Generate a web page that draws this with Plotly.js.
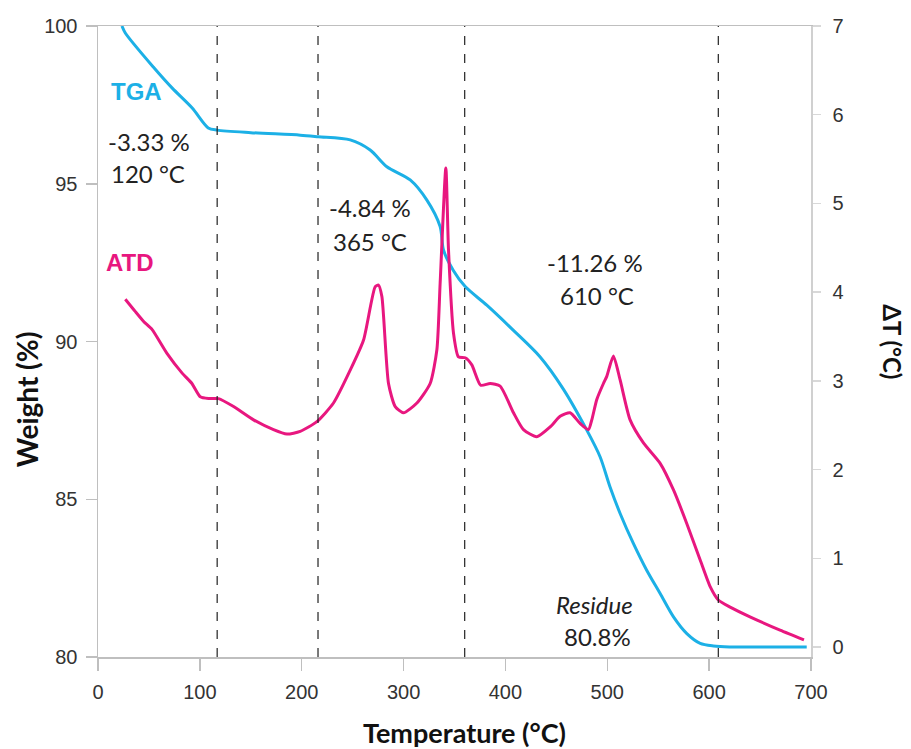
<!DOCTYPE html>
<html>
<head>
<meta charset="utf-8">
<script src="https://cdn.plot.ly/plotly-3.0.1.min.js"></script>
<style>
  html, body { margin: 0; padding: 0; background: #fff; }
  #chart { width: 911px; height: 749px; }
</style>
</head>
<body>
<div id="chart"></div>
<script>
// ---- Data ----
var tgaTemp = [23.5, 26.8, 54.3, 72.9, 92.5, 108.2, 117, 150, 198.6, 216.2, 247.6, 267.2, 283.6, 306.5, 322.9, 335.9, 339.2, 348.7, 360.5, 381.7, 407.6, 434.1, 456.7, 479.9, 493, 502.7, 512.6, 525.6, 538.7, 551.9, 565, 578.1, 591.2, 604.3, 620, 650, 695.8];
var tgaWeight = [100, 99.78, 98.70, 98.03, 97.40, 96.77, 96.70, 96.62, 96.54, 96.49, 96.39, 96.07, 95.54, 95.12, 94.48, 93.64, 92.90, 92.26, 91.74, 91.15, 90.36, 89.51, 88.50, 87.19, 86.34, 85.39, 84.55, 83.60, 82.75, 82.01, 81.27, 80.74, 80.43, 80.35, 80.32, 80.32, 80.32];

var atdTemp = [26.8, 36.7, 44.8, 53, 67.7, 82.4, 92.2, 100.4, 108.5, 118.4, 133.1, 152.7, 172.3, 185.5, 198.5, 214.9, 231.2, 247.6, 260.7, 272.1, 275.4, 278.7, 285.2, 291.8, 299.9, 313.1, 326.1, 332.7, 335.9, 341.5, 344.1, 349, 353.9, 360.5, 367, 375.7, 385, 394.8, 407.9, 417.7, 430.8, 443.9, 453.7, 463.5, 473.3, 481.5, 484.8, 489.7, 496.2, 499.5, 506, 512.6, 522.4, 535.5, 551.9, 565, 578.1, 591.2, 601, 609, 620.6, 640.1, 669.6, 693.1];
var atdDelta = [3.92, 3.78, 3.67, 3.58, 3.31, 3.09, 2.97, 2.82, 2.80, 2.80, 2.71, 2.56, 2.45, 2.40, 2.43, 2.54, 2.75, 3.12, 3.46, 4.06, 4.08, 3.95, 2.97, 2.71, 2.64, 2.75, 2.97, 3.35, 4.10, 5.40, 4.48, 3.54, 3.27, 3.26, 3.18, 2.95, 2.97, 2.94, 2.64, 2.45, 2.37, 2.48, 2.60, 2.64, 2.52, 2.45, 2.56, 2.79, 2.97, 3.05, 3.28, 3.01, 2.56, 2.30, 2.07, 1.77, 1.39, 0.98, 0.68, 0.53, 0.45, 0.34, 0.19, 0.08];

var stageBounds = [117, 216, 360, 609];

var xTicks = [0, 100, 200, 300, 400, 500, 600, 700];
var yLeftTicks = [80, 85, 90, 95, 100];
var yRightTicks = [0, 1, 2, 3, 4, 5, 6, 7];

var stageLabels = [
  {t: '-3.33 %', x: 50.3, y: 96.35},
  {t: '120 °C', x: 49.4, y: 95.31},
  {t: '-4.84 %', x: 267.2, y: 94.26},
  {t: '365 °C', x: 267.2, y: 93.18},
  {t: '-11.26 %', x: 488, y: 92.49},
  {t: '610 °C', x: 490, y: 91.47},
  {t: '<i>Residue</i>', x: 487, y: 81.67},
  {t: '80.8%', x: 490, y: 80.66}
];

var blue = '#1cb0e6';
var pink = '#e8177f';
var axisGray = '#bfbfbf';
var tickFont = {family: 'Liberation Sans, Arial, sans-serif', size: 20, color: '#333'};
var textFont = {family: 'Lato, sans-serif', size: 24, color: '#222'};

var traces = [
  {x: tgaTemp, y: tgaWeight, type: 'scatter', mode: 'lines', name: 'TGA',
   line: {color: blue, width: 3, shape: 'spline', smoothing: 0.8}, yaxis: 'y'},
  {x: atdTemp, y: atdDelta, type: 'scatter', mode: 'lines', name: 'ATD',
   line: {color: pink, width: 3, shape: 'spline', smoothing: 0.6}, yaxis: 'y2'}
];

var shapes = stageBounds.map(function (b) {
  return {type: 'line', xref: 'x', yref: 'paper', x0: b, x1: b, y0: 0, y1: 1,
          line: {color: '#222', width: 1.2, dash: 'dash'}};
});

var annotations = stageLabels.map(function (s) {
  return {text: s.t, x: s.x, y: s.y, xref: 'x', yref: 'y', showarrow: false,
          font: textFont, xanchor: 'center', yanchor: 'middle'};
});
annotations.push({text: '<b>TGA</b>', x: 37.6, y: 97.91, xref: 'x', yref: 'y', showarrow: false,
  font: {family: 'Liberation Sans, Arial, sans-serif', size: 24, color: blue}});
annotations.push({text: '<b>ATD</b>', x: 31.7, y: 92.49, xref: 'x', yref: 'y', showarrow: false,
  font: {family: 'Liberation Sans, Arial, sans-serif', size: 24, color: pink}});
annotations.push({text: '<b>Temperature (°C)</b>', xref: 'paper', yref: 'paper', x: 0.5135, y: -0.1204,
  xanchor: 'center', yanchor: 'middle', showarrow: false,
  font: {family: 'Lato, sans-serif', size: 27, color: '#111'}});
annotations.push({text: '<b>Weight (%)</b>', xref: 'paper', yref: 'paper', x: -0.0991, y: 0.409,
  xanchor: 'center', yanchor: 'middle', showarrow: false, textangle: -90,
  font: {family: 'Lato, sans-serif', size: 28, color: '#111'}});
annotations.push({text: '<b>ΔT (°C)</b>', xref: 'paper', yref: 'paper', x: 1.115, y: 0.499,
  xanchor: 'center', yanchor: 'middle', showarrow: false, textangle: 90,
  font: {family: 'Lato, sans-serif', size: 24, color: '#111'}});

var layout = {
  width: 911, height: 749,
  margin: {l: 98, r: 100, t: 26, b: 92},
  paper_bgcolor: '#fff', plot_bgcolor: '#fff',
  showlegend: false,
  xaxis: {range: [0, 700], tickvals: xTicks, ticks: 'outside', ticklen: 12, tickcolor: axisGray,
          tickwidth: 1.5, showline: true, linecolor: axisGray, linewidth: 1.5, mirror: true,
          showgrid: false, zeroline: false, tickfont: tickFont, ticklabelstandoff: 4},
  yaxis: {range: [80, 100], tickvals: yLeftTicks, ticks: 'outside', ticklen: 11, tickcolor: axisGray,
          tickwidth: 1.5, showline: true, linecolor: axisGray, linewidth: 1.5,
          showgrid: false, zeroline: false, tickfont: tickFont, ticklabelstandoff: 4},
  yaxis2: {range: [-0.113, 7], tickvals: yRightTicks, overlaying: 'y', side: 'right', ticks: 'outside',
           ticklen: 8, tickcolor: '#d8d8d8', tickwidth: 1.5, showline: true, linecolor: '#d0d0d0',
           linewidth: 1.5, showgrid: false, zeroline: false, tickfont: tickFont, ticklabelstandoff: 8},
  shapes: shapes,
  annotations: annotations
};

Plotly.newPlot('chart', traces, layout, {displayModeBar: false, staticPlot: true});
</script>
</body>
</html>
